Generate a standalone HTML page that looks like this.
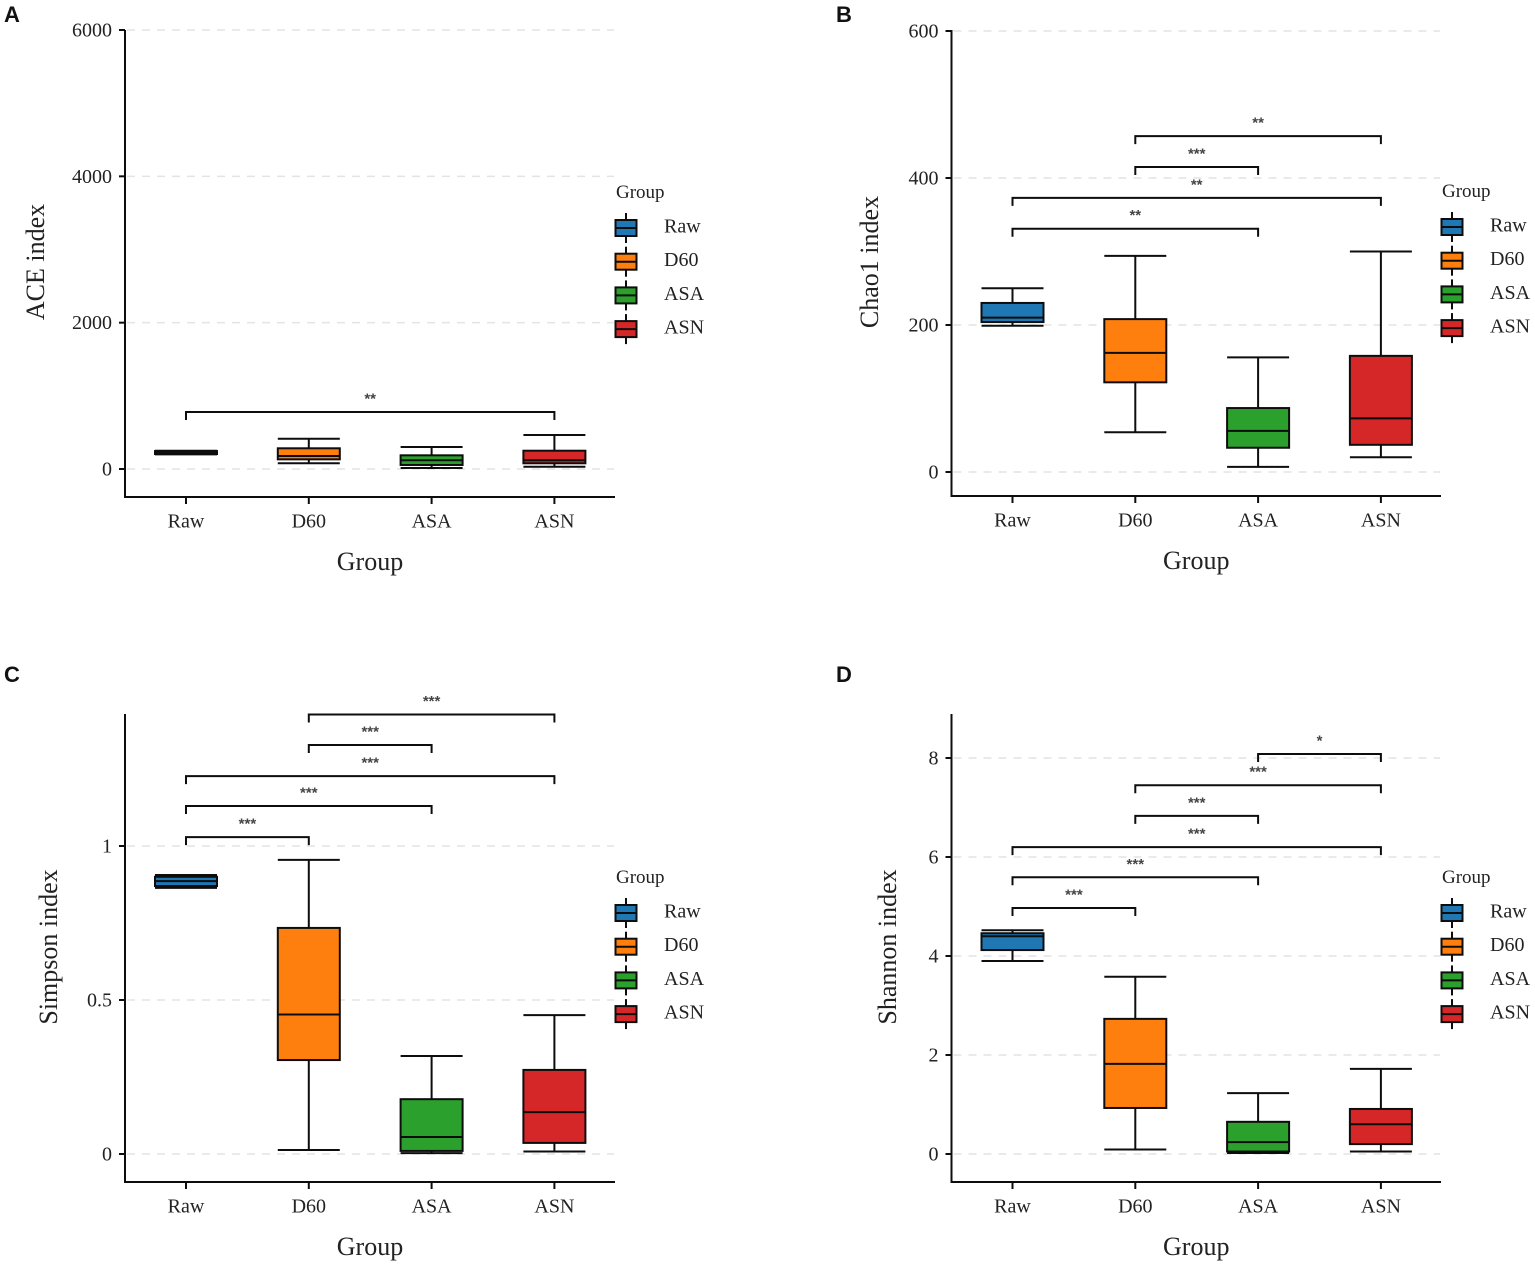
<!DOCTYPE html>
<html lang="en">
<head>
<meta charset="utf-8">
<title>Alpha diversity box plots</title>
<style>
  html, body { margin: 0; padding: 0; background: #fff; }
  body { width: 1535px; height: 1265px; overflow: hidden; }
  svg { display: block; font-family: "Liberation Serif", serif; filter: blur(0.35px); }
</style>
</head>
<body>
<svg id="figure" xmlns="http://www.w3.org/2000/svg" width="1535" height="1265" viewBox="0 0 1535 1265"></svg>
<script>
// ---- shared data ----
const categories = ["Raw", "D60", "ASA", "ASN"];
const categoryColors = ["#1f77b4", "#ff7f0e", "#2ca02c", "#d62728"];

// ---- Panel A: ACE index ----
const aceLower  = [200, 78, 14, 31];
const aceQ1     = [205, 132, 55, 78];
const aceMedian = [228, 178, 119, 119];
const aceQ3     = [245, 283, 187, 250];
const aceUpper  = [250, 414, 300, 465];
const aceTicks = [0, 2000, 4000, 6000];
const aceTickLabels = ["0", "2000", "4000", "6000"];
const aceBracketFrom = [0];
const aceBracketTo = [3];
const aceBracketValues = [779];
const aceBracketLabels = ["**"];

// ---- Panel B: Chao1 index ----
const chaoLower  = [199, 54, 7, 20];
const chaoQ1     = [204, 122, 33, 37];
const chaoMedian = [210, 162, 56, 73];
const chaoQ3     = [230, 208, 87, 158];
const chaoUpper  = [250, 294, 156, 300];
const chaoTicks = [0, 200, 400, 600];
const chaoTickLabels = ["0", "200", "400", "600"];
const chaoBracketFrom = [0, 0, 1, 1];
const chaoBracketTo = [2, 3, 2, 3];
const chaoBracketValues = [331, 373, 415, 457];
const chaoBracketLabels = ["**", "**", "***", "**"];

// ---- Panel C: Simpson index ----
const simpsonLower  = [0.864, 0.013, 0.003, 0.008];
const simpsonQ1     = [0.870, 0.305, 0.010, 0.036];
const simpsonMedian = [0.886, 0.453, 0.055, 0.136];
const simpsonQ3     = [0.900, 0.734, 0.178, 0.273];
const simpsonUpper  = [0.906, 0.955, 0.318, 0.451];
const simpsonTicks = [0, 0.5, 1];
const simpsonTickLabels = ["0", "0.5", "1"];
const simpsonBracketFrom = [0, 0, 0, 1, 1];
const simpsonBracketTo = [1, 2, 3, 2, 3];
const simpsonBracketValues = [1.029, 1.13, 1.227, 1.328, 1.427];
const simpsonBracketLabels = ["***", "***", "***", "***", "***"];

// ---- Panel D: Shannon index ----
const shannonLower  = [3.9, 0.09, 0.02, 0.05];
const shannonQ1     = [4.12, 0.93, 0.05, 0.2];
const shannonMedian = [4.4, 1.82, 0.24, 0.6];
const shannonQ3     = [4.46, 2.73, 0.65, 0.91];
const shannonUpper  = [4.52, 3.58, 1.23, 1.72];
const shannonTicks = [0, 2, 4, 6, 8];
const shannonTickLabels = ["0", "2", "4", "6", "8"];
const shannonBracketFrom = [0, 0, 0, 1, 1, 2];
const shannonBracketTo = [1, 2, 3, 2, 3, 3];
const shannonBracketValues = [4.97, 5.59, 6.2, 6.83, 7.45, 8.08];
const shannonBracketLabels = ["***", "***", "***", "***", "***", "*"];

// ---- drawing ----
const SVG_NS = "http://www.w3.org/2000/svg";
const figure = document.getElementById("figure");
const INK = "#0d0d0d";

function make(parent, tag, props, content) {
  const el = document.createElementNS(SVG_NS, tag);
  for (const key in props) el.setAttribute(key, props[key]);
  if (content !== undefined) el.textContent = content;
  parent.appendChild(el);
  return el;
}

function drawPanel(cfg) {
  const panel = make(figure, "g", {});
  
  

  // axis functions
  const xPos = i => cfg.x0 + i * cfg.xStep;
  const yPos = v => cfg.yZero - (v - cfg.domain[0]) * (cfg.yZero - cfg.yMax) / (cfg.domain[1] - cfg.domain[0]);

  const letter = make(panel, "text", {
    x: cfg.letterX, y: cfg.letterY, "font-family": '"Liberation Sans", sans-serif',
    "font-size": 22, "font-weight": "bold", fill: "#111"
  }, cfg.letter);
  
  

  // gridlines
  cfg.ticks.forEach(t => {
    const grid = make(panel, "line", {
      x1: cfg.left + 2, x2: cfg.right - 1, y1: yPos(t), y2: yPos(t),
      stroke: "#e4e4e4", "stroke-width": 1.5, "stroke-dasharray": "8 7"
    });
    
    
  });

  // axes
  const yAxis = make(panel, "line", {
    x1: cfg.left, x2: cfg.left, y1: cfg.top, y2: cfg.bottom + 1, stroke: INK, "stroke-width": 2
  });
  
  
  const xAxis = make(panel, "line", {
    x1: cfg.left - 1, x2: cfg.right, y1: cfg.bottom, y2: cfg.bottom, stroke: INK, "stroke-width": 2
  });
  
  

  // y ticks
  cfg.ticks.forEach((t, i) => {
    const tick = make(panel, "line", {
      x1: cfg.left - 6, x2: cfg.left, y1: yPos(t), y2: yPos(t), stroke: INK, "stroke-width": 2
    });
    
    
    const label = make(panel, "text", {
      x: cfg.left - 13, y: yPos(t) + 6.5, "text-anchor": "end", "font-size": 20, fill: "#222"
    }, cfg.tickLabels[i]);
    
    
  });

  // x ticks
  categories.forEach((c, i) => {
    const tick = make(panel, "line", {
      x1: xPos(i), x2: xPos(i), y1: cfg.bottom, y2: cfg.bottom + 7, stroke: INK, "stroke-width": 2
    });
    
    
    const label = make(panel, "text", {
      x: xPos(i), y: cfg.bottom + 30.5, "text-anchor": "middle", "font-size": 20, fill: "#222"
    }, c);
    
    
  });

  // axis titles
  const xTitle = make(panel, "text", {
    x: (cfg.left + cfg.right) / 2, y: cfg.bottom + 73, "text-anchor": "middle",
    "font-size": 26, fill: "#222"
  }, "Group");
  
  
  const yTitle = make(panel, "text", {
    transform: "translate(" + cfg.yTitleX + "," + cfg.yTitleY + ") rotate(-90)",
    "text-anchor": "middle", "font-size": 26, fill: "#222"
  }, cfg.yTitle);
  
  

  // boxes
  categories.forEach((c, i) => {
    const group = make(panel, "g", {});
    
    
    const cx = xPos(i), half = 31;
    const whisker = make(group, "line", {
      x1: cx, x2: cx, y1: yPos(cfg.lower[i]), y2: yPos(cfg.upper[i]), stroke: INK, "stroke-width": 2
    });
    
    
    [cfg.lower[i], cfg.upper[i]].forEach(v => {
      const cap = make(group, "line", {
        x1: cx - half, x2: cx + half, y1: yPos(v), y2: yPos(v), stroke: INK, "stroke-width": 2
      });
      
      
    });
    const body = make(group, "rect", {
      x: cx - half, width: half * 2, y: yPos(cfg.q3[i]),
      height: yPos(cfg.q1[i]) - yPos(cfg.q3[i]),
      fill: categoryColors[i], stroke: INK, "stroke-width": 2
    });
    
    
    const median = make(group, "line", {
      x1: cx - half, x2: cx + half, y1: yPos(cfg.median[i]), y2: yPos(cfg.median[i]),
      stroke: INK, "stroke-width": 2
    });
    
    
  });

  // significance brackets
  cfg.bracketValues.forEach((v, i) => {
    const x1 = xPos(cfg.bracketFrom[i]), x2 = xPos(cfg.bracketTo[i]), y = yPos(v);
    const bracket = make(panel, "path", {
      d: "M" + x1 + " " + (y + 8) + "V" + y + "H" + x2 + "V" + (y + 8),
      fill: "none", stroke: INK, "stroke-width": 2
    });
    
    
    const stars = make(panel, "text", {
      x: (x1 + x2) / 2, y: y - 8.5, "text-anchor": "middle",
      "font-family": '"Liberation Sans", sans-serif', "font-size": 15,
      "font-weight": "bold", fill: "#444"
    }, cfg.bracketLabels[i]);
    
    
  });

  // legend
  const legend = make(panel, "g", {});
  
  
  const legendTitle = make(legend, "text", {
    x: cfg.right + 1, y: cfg.legendY, "font-size": 19, fill: "#222"
  }, "Group");
  
  
  categories.forEach((c, i) => {
    const kx = cfg.right + 11, ky = cfg.legendY + 30 + i * 33.7;
    const entry = make(legend, "g", {});
    
    
    make(entry, "line", { x1: kx, x2: kx, y1: ky - 15, y2: ky + 15, stroke: INK, "stroke-width": 2 });
    make(entry, "rect", {
      x: kx - 10.5, y: ky - 8, width: 21, height: 16,
      fill: categoryColors[i], stroke: INK, "stroke-width": 2
    });
    make(entry, "line", { x1: kx - 10.5, x2: kx + 10.5, y1: ky, y2: ky, stroke: INK, "stroke-width": 2 });
    const txt = make(entry, "text", {
      x: cfg.right + 49, y: ky + 4.5, "font-size": 20, fill: "#222"
    }, c);
    
    
  });
}

drawPanel({
  id: "ace", letter: "A", letterX: 4, letterY: 22, yTitle: "ACE index", yTitleX: 44, yTitleY: 262,
  left: 125, right: 615, top: 30, bottom: 497, x0: 186, xStep: 122.8,
  yZero: 469, yMax: 30, domain: [0, 6000], legendY: 198,
  ticks: aceTicks, tickLabels: aceTickLabels,
  lower: aceLower, q1: aceQ1, median: aceMedian, q3: aceQ3, upper: aceUpper,
  bracketFrom: aceBracketFrom, bracketTo: aceBracketTo, bracketValues: aceBracketValues, bracketLabels: aceBracketLabels
});
drawPanel({
  id: "chao1", letter: "B", letterX: 836, letterY: 22, yTitle: "Chao1 index", yTitleX: 878, yTitleY: 262,
  left: 951.5, right: 1441, top: 30, bottom: 496, x0: 1012.5, xStep: 122.8,
  yZero: 472, yMax: 31, domain: [0, 600], legendY: 197,
  ticks: chaoTicks, tickLabels: chaoTickLabels,
  lower: chaoLower, q1: chaoQ1, median: chaoMedian, q3: chaoQ3, upper: chaoUpper,
  bracketFrom: chaoBracketFrom, bracketTo: chaoBracketTo, bracketValues: chaoBracketValues, bracketLabels: chaoBracketLabels
});
drawPanel({
  id: "simpson", letter: "C", letterX: 4, letterY: 682, yTitle: "Simpson index", yTitleX: 57, yTitleY: 947,
  left: 125, right: 615, top: 714, bottom: 1182, x0: 186, xStep: 122.8,
  yZero: 1154, yMax: 846, domain: [0, 1], legendY: 883,
  ticks: simpsonTicks, tickLabels: simpsonTickLabels,
  lower: simpsonLower, q1: simpsonQ1, median: simpsonMedian, q3: simpsonQ3, upper: simpsonUpper,
  bracketFrom: simpsonBracketFrom, bracketTo: simpsonBracketTo, bracketValues: simpsonBracketValues, bracketLabels: simpsonBracketLabels
});
drawPanel({
  id: "shannon", letter: "D", letterX: 836, letterY: 682, yTitle: "Shannon index", yTitleX: 896, yTitleY: 947,
  left: 951.5, right: 1441, top: 714, bottom: 1182, x0: 1012.5, xStep: 122.8,
  yZero: 1154, yMax: 758, domain: [0, 8], legendY: 883,
  ticks: shannonTicks, tickLabels: shannonTickLabels,
  lower: shannonLower, q1: shannonQ1, median: shannonMedian, q3: shannonQ3, upper: shannonUpper,
  bracketFrom: shannonBracketFrom, bracketTo: shannonBracketTo, bracketValues: shannonBracketValues, bracketLabels: shannonBracketLabels
});
</script>
</body>
</html>
